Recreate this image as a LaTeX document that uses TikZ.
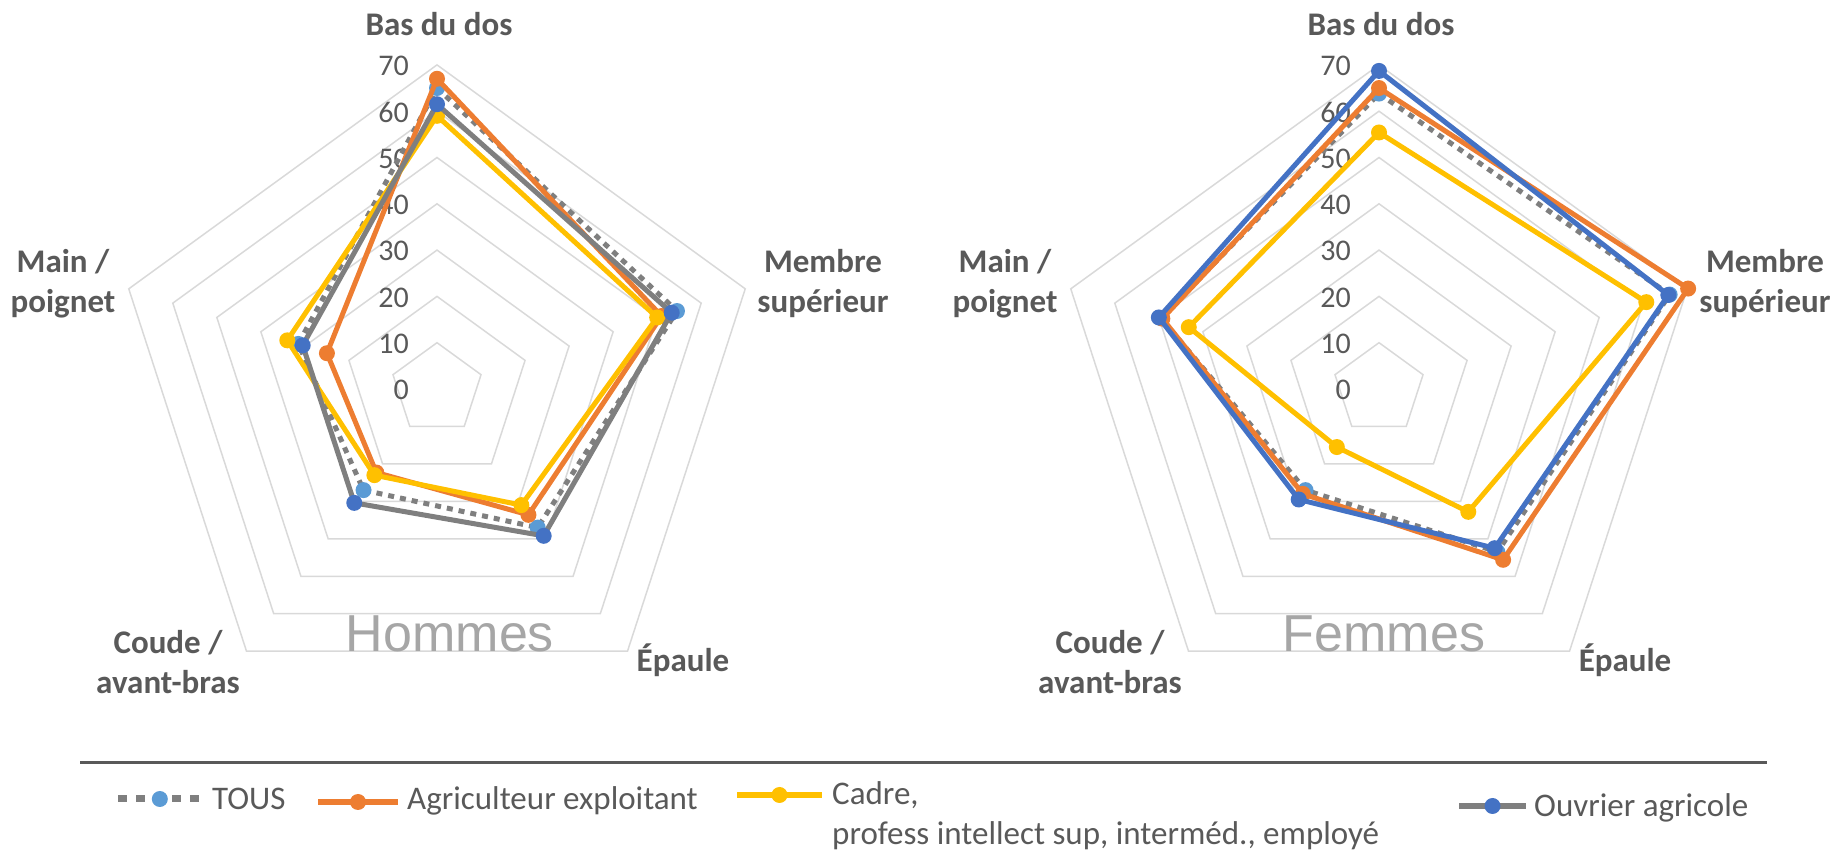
\documentclass[tikz,border=0pt]{standalone}
\usepackage{fontspec}
\setmainfont{Carlito}
\newfontfamily\titlefont{Liberation Sans}
\usetikzlibrary{calc}

\definecolor{gridgray}{HTML}{D9D9D9}
\definecolor{txtgray}{HTML}{595959}
\definecolor{titlegray}{HTML}{A6A6A6}
\definecolor{tousgray}{HTML}{7F7F7F}
\definecolor{tousblue}{HTML}{5B9BD5}
\definecolor{agrior}{HTML}{ED7D31}
\definecolor{cadreyel}{HTML}{FFC000}
\definecolor{ouvblue}{HTML}{4472C4}

% one series: name, centre, line style, marker colour, five values
\newcommand{\serie}[5]{%
  \foreach \v [count=\i] in {#5}
    \coordinate (#1\i) at ($(#2)+({162-72*\i}:{4.63*\v})$);
  \draw[#3] (#11) -- (#12) -- (#13) -- (#14) -- (#15) -- cycle;
  \foreach \i in {1,...,5}
    \fill[#4] (#1\i) circle (8);
}

\begin{document}
\begin{tikzpicture}[x=1pt,y=1pt,
    grid/.style={draw=gridgray,line width=1.5},
    tick/.style={anchor=east,text=txtgray,inner sep=0pt,font=\fontsize{30}{36}\selectfont},
    axis/.style={anchor=base,align=center,text=txtgray,inner sep=0pt,font=\bfseries\fontsize{33}{40}\selectfont},
    title/.style={anchor=base,text=titlegray,inner sep=0pt,font=\titlefont\fontsize{52}{60}\selectfont},
    leg/.style={anchor=base west,align=left,text=txtgray,inner sep=0pt,font=\fontsize{33}{40}\selectfont},
    tous/.style={draw=tousgray,line width=5,dash pattern=on 6pt off 6pt,line join=round},
    agri/.style={draw=agrior,line width=5,line join=round},
    cadre/.style={draw=cadreyel,line width=5,line join=round},
    ouvh/.style={draw=tousgray,line width=5,line join=round},
    ouvf/.style={draw=ouvblue,line width=5,line join=round}]
  \useasboundingbox (0,0) rectangle (1841,853);
  \coordinate (hom) at (437,464);
  \coordinate (fem) at (1379,464);

  % rings, scale and axis names
  \foreach \c in {hom,fem} {
    \foreach \k in {1,...,7}
      \draw[grid,shift={(\c)}] (90:{46.3*\k}) -- (18:{46.3*\k}) -- (-54:{46.3*\k})
        -- (-126:{46.3*\k}) -- (162:{46.3*\k}) -- cycle;
    \foreach \k [evaluate=\k as \t using int(10*\k)] in {0,...,7}
      \node[tick] (\c-t\k) at ($(\c)+(-28,{46.3*\k-1})$) {\t};
    \node[axis] (\c-bas) at ($(\c)+(2,353)$) {Bas du dos};
    \node[axis] (\c-membre) at ($(\c)+(386,76)$) {Membre\\supérieur};
    \node[axis] (\c-epaule) at ($(\c)+(246,-283)$) {Épaule};
    \node[axis] (\c-coude) at ($(\c)+(-269,-304.5)$) {Coude /\\avant-bras};
    \node[axis] (\c-main) at ($(\c)+(-374,76)$) {Main /\\poignet};
  }
  \node[title] (hom-titre) at (450,201) {Hommes};
  \node[title] (fem-titre) at (1384,201) {Femmes};

  % Hommes
  \serie{hT}{hom}{tous}{tousblue}{65,54.5,37,27,31.5}
  \serie{hA}{hom}{agri}{agrior}{67,51,33.6,22.3,25}
  \serie{hC}{hom}{cadre}{cadreyel}{59,50,31,23,34}
  \serie{hO}{hom}{ouvh}{ouvblue}{61.5,53.3,39.2,30.4,30.5}
  % Femmes
  \serie{fT}{fem}{tous}{tousblue}{63.8,66,43.5,27,49.5}
  \serie{fA}{fem}{agri}{agrior}{65,70.2,45.6,28,49.2}
  \serie{fC}{fem}{cadre}{cadreyel}{55.4,60.7,32.8,15.5,43.2}
  \serie{fO}{fem}{ouvf}{ouvblue}{68.7,65.7,42.5,29.5,50}

  % legend
  \coordinate (rl) at (80,90);
  \coordinate (rr) at (1767,90);
  \draw[txtgray,line width=3] (rl) -- (rr);

  \coordinate (l1a) at (118,54);
  \coordinate (l1b) at (207,54);
  \draw[tous,line width=7,dash pattern=on 9pt off 9pt] (l1a) -- (l1b);
  \fill[tousblue] ($(l1a)!0.47!(l1b)$) circle (8);
  \node[leg] (leg-tous) at (212,43) {TOUS};

  \coordinate (l2a) at (318,51);
  \coordinate (l2b) at (398,51);
  \draw[agri,line width=6] (l2a) -- (l2b);
  \fill[agrior] ($(l2a)!0.5!(l2b)$) circle (8);
  \node[leg] (leg-agri) at (407,43) {Agriculteur exploitant};

  \coordinate (l3a) at (737,58);
  \coordinate (l3b) at (822,58);
  \draw[cadre,line width=6] (l3a) -- (l3b);
  \fill[cadreyel] ($(l3a)!0.5!(l3b)$) circle (8);
  \node[leg] (leg-cadre) at (832,8) {Cadre,\\profess intellect sup, interméd., employé};

  \coordinate (l4a) at (1459,47);
  \coordinate (l4b) at (1526,47);
  \draw[ouvh,line width=6] (l4a) -- (l4b);
  \fill[ouvblue] ($(l4a)!0.5!(l4b)$) circle (8);
  \node[leg] (leg-ouv) at (1534,36) {Ouvrier agricole};
\end{tikzpicture}
\end{document}
